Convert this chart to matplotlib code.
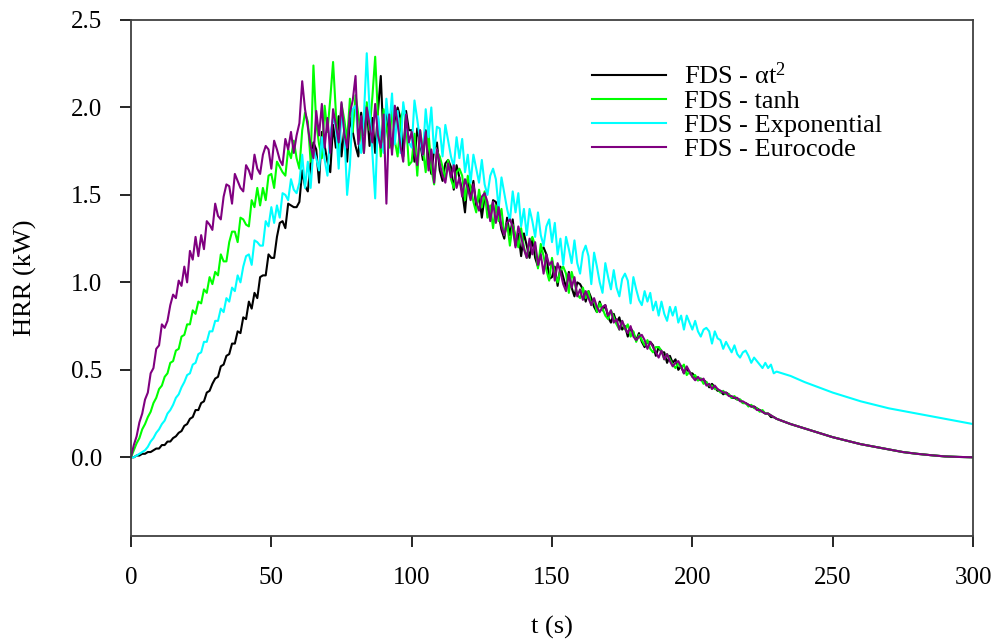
import numpy as np
import matplotlib
matplotlib.use("Agg")
import matplotlib.pyplot as plt

plt.rcParams['font.family'] = ['Liberation Serif', 'DejaVu Serif']
plt.rcParams['mathtext.default'] = 'regular'

# HRR (kW), one value per second from t = 0 to 230 s
black_hrr = [0.00, 0.00, 0.01, 0.01, 0.02, 0.02, 0.03, 0.03, 0.04, 0.05,
             0.05, 0.07, 0.07, 0.09, 0.09, 0.11, 0.12, 0.14, 0.15, 0.18,
             0.19, 0.22, 0.23, 0.27, 0.27, 0.31, 0.32, 0.37, 0.38, 0.42,
             0.45, 0.46, 0.52, 0.53, 0.58, 0.59, 0.65, 0.65, 0.72, 0.71,
             0.80, 0.79, 0.89, 0.85, 0.94, 0.91, 1.03, 1.04, 1.04, 1.16,
             1.14, 1.14, 1.26, 1.34, 1.35, 1.31, 1.45, 1.44, 1.43, 1.43,
             1.46, 1.64, 1.55, 1.52, 1.68, 1.80, 1.76, 1.57, 1.86, 1.78,
             1.69, 1.63, 1.90, 1.77, 1.95, 1.72, 1.88, 1.69, 1.94, 1.86,
             1.78, 1.72, 1.97, 1.84, 2.01, 1.78, 1.94, 1.74, 1.98, 2.18,
             1.80, 2.00, 1.83, 1.76, 1.93, 2.00, 1.94, 1.72, 1.98, 1.87,
             1.87, 1.69, 1.88, 1.80, 1.70, 1.87, 1.70, 1.62, 1.76, 1.80,
             1.64, 1.58, 1.68, 1.70, 1.66, 1.53, 1.67, 1.60, 1.52, 1.40,
             1.59, 1.50, 1.58, 1.43, 1.50, 1.37, 1.49, 1.43, 1.36, 1.47,
             1.46, 1.39, 1.30, 1.25, 1.37, 1.27, 1.36, 1.21, 1.28, 1.15,
             1.28, 1.21, 1.14, 1.25, 1.14, 1.09, 1.18, 1.20, 1.16, 1.02,
             1.03, 1.09, 0.98, 1.09, 1.03, 0.97, 1.06, 0.97, 0.92, 1.00,
             0.99, 0.96, 0.89, 0.95, 0.91, 0.86, 0.83, 0.89, 0.84, 0.87,
             0.80, 0.77, 0.82, 0.77, 0.80, 0.73, 0.75, 0.69, 0.74, 0.71,
             0.67, 0.71, 0.66, 0.63, 0.66, 0.66, 0.64, 0.58, 0.63, 0.60,
             0.60, 0.54, 0.58, 0.54, 0.56, 0.50, 0.52, 0.48, 0.51, 0.48,
             0.48, 0.46, 0.44, 0.45, 0.44, 0.43, 0.40, 0.42, 0.40, 0.38,
             0.38, 0.36, 0.37, 0.36, 0.34, 0.34, 0.33, 0.33, 0.31, 0.31,
             0.30, 0.29, 0.29, 0.28, 0.27, 0.26, 0.25, 0.25, 0.23, 0.23,
             0.22]

green_hrr = [0.00, 0.04, 0.08, 0.11, 0.16, 0.19, 0.23, 0.26, 0.31, 0.34,
             0.39, 0.41, 0.46, 0.48, 0.54, 0.55, 0.61, 0.62, 0.69, 0.70,
             0.76, 0.76, 0.84, 0.82, 0.89, 0.88, 0.96, 0.94, 1.03, 0.99,
             1.06, 1.04, 1.16, 1.12, 1.12, 1.23, 1.29, 1.29, 1.23, 1.37,
             1.36, 1.33, 1.32, 1.47, 1.43, 1.54, 1.44, 1.54, 1.47, 1.61,
             1.62, 1.54, 1.69, 1.66, 1.63, 1.61, 1.76, 1.71, 1.81, 1.71,
             1.65, 1.87, 1.97, 1.92, 1.69, 2.24, 1.91, 1.79, 1.71, 2.01,
             1.86, 2.05, 2.26, 1.97, 1.75, 2.02, 1.93, 1.81, 2.05, 1.86,
             2.07, 1.96, 1.83, 1.74, 2.03, 1.87, 2.06, 2.29, 1.95, 1.72,
             1.99, 1.89, 1.77, 2.01, 1.81, 1.72, 1.92, 1.99, 1.92, 1.67,
             1.69, 1.85, 1.61, 1.87, 1.76, 1.63, 1.86, 1.65, 1.56, 1.75,
             1.72, 1.66, 1.59, 1.70, 1.59, 1.54, 1.63, 1.65, 1.61, 1.47,
             1.61, 1.54, 1.46, 1.40, 1.53, 1.43, 1.52, 1.37, 1.44, 1.31,
             1.44, 1.35, 1.42, 1.27, 1.34, 1.21, 1.33, 1.27, 1.20, 1.31,
             1.20, 1.14, 1.23, 1.26, 1.21, 1.08, 1.22, 1.15, 1.07, 1.01,
             1.14, 1.05, 1.00, 1.07, 1.09, 1.05, 0.94, 1.06, 1.00, 0.93,
             0.91, 0.97, 0.91, 0.95, 0.87, 0.90, 0.83, 0.88, 0.85, 0.81,
             0.79, 0.84, 0.80, 0.76, 0.73, 0.78, 0.73, 0.76, 0.69, 0.72,
             0.66, 0.70, 0.67, 0.64, 0.67, 0.62, 0.60, 0.63, 0.63, 0.61,
             0.56, 0.59, 0.56, 0.53, 0.51, 0.54, 0.51, 0.53, 0.47, 0.49,
             0.46, 0.47, 0.44, 0.45, 0.42, 0.43, 0.41, 0.41, 0.39, 0.39,
             0.37, 0.38, 0.36, 0.36, 0.34, 0.35, 0.33, 0.33, 0.31, 0.31,
             0.29, 0.30, 0.28, 0.28, 0.26, 0.27, 0.25, 0.25, 0.24, 0.23,
             0.22]

cyan_hrr = [0.00, 0.00, 0.01, 0.02, 0.03, 0.04, 0.06, 0.09, 0.11, 0.14,
            0.16, 0.19, 0.21, 0.25, 0.27, 0.30, 0.34, 0.36, 0.40, 0.43,
            0.47, 0.48, 0.53, 0.54, 0.59, 0.60, 0.66, 0.66, 0.72, 0.72,
            0.78, 0.78, 0.85, 0.83, 0.91, 0.89, 0.97, 0.95, 1.04, 1.00,
            1.09, 1.15, 1.16, 1.10, 1.24, 1.23, 1.21, 1.21, 1.35, 1.32,
            1.43, 1.34, 1.44, 1.37, 1.51, 1.50, 1.47, 1.59, 1.53, 1.51,
            1.57, 1.73, 1.54, 1.69, 1.54, 1.76, 1.71, 1.64, 1.83, 1.70,
            1.61, 1.85, 1.94, 1.89, 1.65, 1.98, 1.87, 1.50, 1.67, 1.99,
            2.01, 1.82, 1.74, 1.96, 2.31, 1.99, 1.74, 1.48, 1.95, 1.82,
            1.74, 2.05, 1.88, 2.08, 1.79, 1.98, 1.74, 2.03, 1.92, 1.80,
            1.77, 2.04, 1.93, 1.81, 1.73, 1.99, 1.83, 2.00, 1.74, 1.89,
            1.88, 1.72, 1.90, 1.81, 1.72, 1.66, 1.83, 1.71, 1.82, 1.63,
            1.73, 1.57, 1.73, 1.65, 1.57, 1.70, 1.56, 1.50, 1.61, 1.65,
            1.59, 1.42, 1.60, 1.51, 1.42, 1.35, 1.52, 1.40, 1.51, 1.32,
            1.42, 1.27, 1.42, 1.35, 1.26, 1.40, 1.27, 1.21, 1.32, 1.36,
            1.23, 1.34, 1.16, 1.25, 1.10, 1.26, 1.19, 1.11, 1.24, 1.11,
            1.05, 1.17, 1.21, 1.15, 0.99, 1.17, 1.09, 1.00, 0.94, 1.11,
            1.03, 0.96, 1.07, 0.97, 0.92, 1.02, 1.05, 1.01, 0.88, 1.03,
            0.96, 0.90, 0.87, 0.95, 0.89, 0.94, 0.84, 0.89, 0.81, 0.89,
            0.82, 0.78, 0.86, 0.81, 0.86, 0.77, 0.81, 0.73, 0.81, 0.77,
            0.73, 0.78, 0.72, 0.69, 0.73, 0.74, 0.72, 0.65, 0.72, 0.68,
            0.67, 0.62, 0.66, 0.63, 0.60, 0.64, 0.59, 0.57, 0.60, 0.61,
            0.58, 0.54, 0.57, 0.55, 0.53, 0.51, 0.54, 0.51, 0.53, 0.48,
            0.49]

purple_hrr = [0.00, 0.07, 0.12, 0.20, 0.25, 0.33, 0.37, 0.48, 0.51, 0.62,
              0.64, 0.76, 0.74, 0.78, 0.87, 0.93, 0.91, 1.01, 0.98, 1.09,
              1.00, 1.18, 1.13, 1.26, 1.15, 1.27, 1.19, 1.35, 1.33, 1.30,
              1.45, 1.38, 1.36, 1.49, 1.56, 1.55, 1.45, 1.62, 1.58, 1.54,
              1.52, 1.67, 1.64, 1.59, 1.73, 1.65, 1.62, 1.73, 1.78, 1.76,
              1.65, 1.81, 1.76, 1.70, 1.67, 1.82, 1.76, 1.86, 1.74, 1.84,
              1.91, 2.15, 1.99, 1.89, 1.78, 1.71, 1.98, 1.84, 2.02, 1.77,
              1.94, 1.74, 1.99, 1.90, 1.80, 2.03, 1.85, 1.77, 1.97, 2.04,
              2.18, 1.79, 1.95, 1.74, 2.00, 1.90, 1.80, 2.02, 1.84, 1.77,
              1.96, 1.45, 1.96, 1.73, 2.01, 1.91, 1.78, 1.69, 1.96, 1.80,
              1.86, 1.74, 1.67, 1.87, 1.73, 1.86, 1.64, 1.76, 1.57, 1.76,
              1.68, 1.61, 1.57, 1.68, 1.60, 1.67, 1.54, 1.60, 1.49, 1.59,
              1.54, 1.47, 1.56, 1.46, 1.41, 1.49, 1.51, 1.46, 1.35, 1.46,
              1.34, 1.43, 1.32, 1.27, 1.34, 1.36, 1.32, 1.20, 1.32, 1.26,
              1.19, 1.14, 1.25, 1.16, 1.23, 1.10, 1.16, 1.05, 1.16, 1.10,
              1.12, 1.01, 1.11, 1.06, 0.99, 0.95, 1.05, 0.97, 1.03, 0.92,
              0.96, 0.90, 0.95, 0.91, 0.87, 0.91, 0.86, 0.83, 0.86, 0.87,
              0.81, 0.84, 0.77, 0.79, 0.73, 0.78, 0.74, 0.71, 0.75, 0.69,
              0.67, 0.69, 0.70, 0.67, 0.62, 0.66, 0.63, 0.60, 0.57, 0.61,
              0.56, 0.59, 0.55, 0.52, 0.54, 0.55, 0.52, 0.48, 0.52, 0.49,
              0.46, 0.44, 0.46, 0.44, 0.45, 0.41, 0.42, 0.39, 0.41, 0.39,
              0.38, 0.37, 0.37, 0.35, 0.35, 0.34, 0.34, 0.32, 0.32, 0.31,
              0.30, 0.29, 0.29, 0.27, 0.27, 0.26, 0.25, 0.25, 0.24, 0.23,
              0.22]

# smooth tails, every 5 s from 235 to 300 s
tail_t = [235, 240, 245, 250, 255, 260, 265, 270, 275, 280, 285, 290, 295, 300]
decay_tail = [0.19, 0.165, 0.14, 0.115, 0.095, 0.075, 0.06, 0.045,
              0.03, 0.02, 0.012, 0.005, 0.002, 0.0]
cyan_tail = [0.465, 0.43, 0.40, 0.37, 0.345, 0.32, 0.30, 0.28,
             0.265, 0.25, 0.235, 0.22, 0.205, 0.19]

labels = ['FDS - \u03b1t$^2$', 'FDS - tanh', 'FDS - Exponential', 'FDS - Eurocode']
colors = ['black', '#00ff00', '#00ffff', '#800080']

fig = plt.figure(figsize=(10.03, 6.43), dpi=100)
ax = fig.add_axes([0.1306, 0.1664, 0.8395, 0.8025])

series = [(black_hrr, decay_tail), (green_hrr, decay_tail),
          (cyan_hrr, cyan_tail), (purple_hrr, decay_tail)]
for (vals, tail), lab, col in zip(series, labels, colors):
    t = list(range(len(vals))) + tail_t
    ax.plot(t, vals + tail, color=col, lw=1.5, label=lab)

ax.set_xlim(0, 300)
ax.set_ylim(-0.45, 2.5)
ax.set_xticks(np.arange(0, 301, 50))
ax.set_yticks(np.arange(0, 2.51, 0.5))
ax.set_yticklabels(['%.1f' % v for v in np.arange(0, 2.51, 0.5)])
ax.tick_params(direction='out', length=8, width=1.2, labelsize=18,
               top=False, right=False)
ax.tick_params(axis='y', pad=13)
ax.tick_params(axis='x', pad=14)
for s in ax.spines.values():
    s.set_color('#404040')
    s.set_linewidth(1.3)

ax.set_xlabel('t (s)', fontsize=19, labelpad=20)
ax.set_ylabel('HRR (kW)', fontsize=19, labelpad=24)

leg = ax.legend(loc='upper left', bbox_to_anchor=(0.5475, 0.918), frameon=False,
                fontsize=19, handlelength=2.8, handletextpad=0.68,
                labelspacing=0.02, borderpad=0, borderaxespad=0)
for h in leg.get_lines():
    h.set_linewidth(1.5)

fig.savefig('out.png', dpi=100)
